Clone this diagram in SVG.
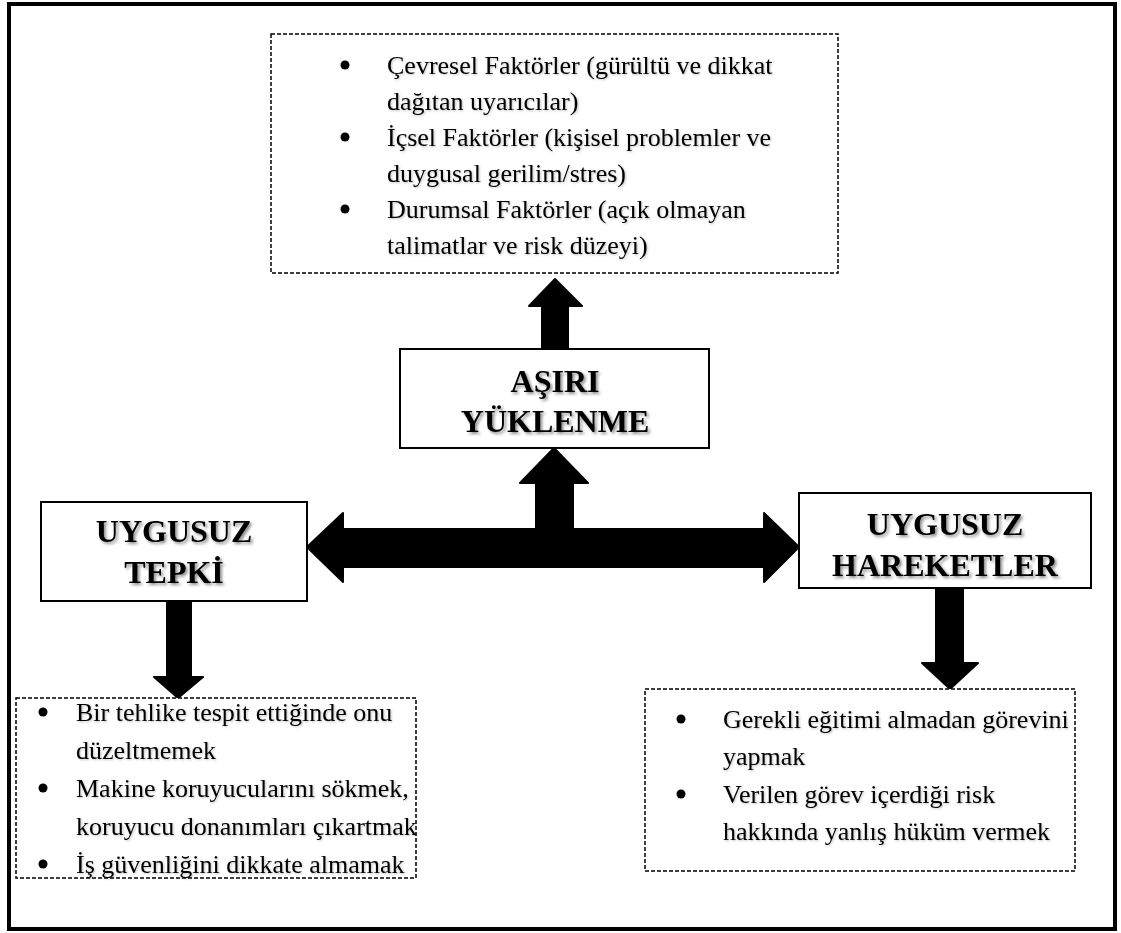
<svg xmlns="http://www.w3.org/2000/svg" width="1121" height="933" viewBox="0 0 1121 933">
<defs>
<filter id="sh" x="-10%" y="-20%" width="130%" height="160%">
<feDropShadow dx="2" dy="2" stdDeviation="1.5" flood-color="#000" flood-opacity="0.45"/>
</filter>
<filter id="sh2" x="-5%" y="-20%" width="110%" height="160%">
<feDropShadow dx="1" dy="1" stdDeviation="1" flood-color="#000" flood-opacity="0.25"/>
</filter>
</defs>
<style>
.frame{fill:#fff;stroke:#000;stroke-width:4}
.box{fill:#fff;stroke:#000;stroke-width:2}
.dash{fill:#fff;stroke:#000;stroke-width:1.5;stroke-dasharray:4 2}
.title{font-family:"Liberation Serif","Times New Roman",serif;font-weight:bold;font-size:32px;text-anchor:middle;fill:#000;filter:url(#sh)}
.body{font-family:"Liberation Serif","Times New Roman",serif;font-size:26px;fill:#000;filter:url(#sh2)}
.dot{fill:#000}
.arrow{fill:#000;stroke:#000;stroke-width:2;stroke-linejoin:round}
</style>
<rect class="frame" x="9" y="4" width="1106" height="925"/>

<g id="connectors">
<path class="arrow" d="M555,279 L582,306 L568,306 L568,349 L542,349 L542,306 L529,306 Z"/>
<path class="arrow" d="M307,547 L343,513 L343,529 L536,529 L536,483 L520,483 L554,448 L588,483 L573,483 L573,529 L764,529 L764,513 L799,547 L764,582 L764,567 L343,567 L343,582 Z"/>
<path class="arrow" d="M167,601 L191,601 L191,677 L203,677 L178,698 L154,677 L167,677 Z"/>
<path class="arrow" d="M936,588 L963,588 L963,663 L978,663 L950,689 L922,663 L936,663 Z"/>
</g>

<g id="factors">
<rect class="dash" x="271" y="34" width="567" height="239"/>
<circle class="dot" cx="345" cy="65" r="4.5"/>
<circle class="dot" cx="345" cy="137" r="4.5"/>
<circle class="dot" cx="345" cy="209" r="4.5"/>
<g class="body">
<text x="387" y="74">Çevresel Faktörler (gürültü ve dikkat</text>
<text x="387" y="110">dağıtan uyarıcılar)</text>
<text x="387" y="146">İçsel Faktörler (kişisel problemler ve</text>
<text x="387" y="182">duygusal gerilim/stres)</text>
<text x="387" y="218">Durumsal Faktörler (açık olmayan</text>
<text x="387" y="254">talimatlar ve risk düzeyi)</text>
</g>
</g>

<g id="asiri">
<rect class="box" x="400" y="349" width="309" height="99"/>
<text class="title" x="555" y="392">AŞIRI</text>
<text class="title" x="555" y="432">YÜKLENME</text>
</g>

<g id="tepki">
<rect class="box" x="41" y="502" width="266" height="99"/>
<text class="title" x="174" y="542">UYGUSUZ</text>
<text class="title" x="174" y="583">TEPKİ</text>
</g>

<g id="hareketler">
<rect class="box" x="799" y="493" width="292" height="95"/>
<text class="title" x="945" y="535">UYGUSUZ</text>
<text class="title" x="945" y="576">HAREKETLER</text>
</g>

<g id="tepki-list">
<rect class="dash" x="16" y="698" width="400" height="180"/>
<circle class="dot" cx="43" cy="712" r="4.5"/>
<circle class="dot" cx="43" cy="788" r="4.5"/>
<circle class="dot" cx="43" cy="864" r="4.5"/>
<g class="body">
<text x="76" y="721">Bir tehlike tespit ettiğinde onu</text>
<text x="76" y="759">düzeltmemek</text>
<text x="76" y="797">Makine koruyucularını sökmek,</text>
<text x="76" y="835">koruyucu donanımları çıkartmak</text>
<text x="76" y="873">İş güvenliğini dikkate almamak</text>
</g>
</g>

<g id="hareketler-list">
<rect class="dash" x="645" y="689" width="430" height="182"/>
<circle class="dot" cx="681" cy="719" r="4.5"/>
<circle class="dot" cx="681" cy="794" r="4.5"/>
<g class="body">
<text x="723" y="728">Gerekli eğitimi almadan görevini</text>
<text x="723" y="765">yapmak</text>
<text x="723" y="803">Verilen görev içerdiği risk</text>
<text x="723" y="840">hakkında yanlış hüküm vermek</text>
</g>
</g>
</svg>
